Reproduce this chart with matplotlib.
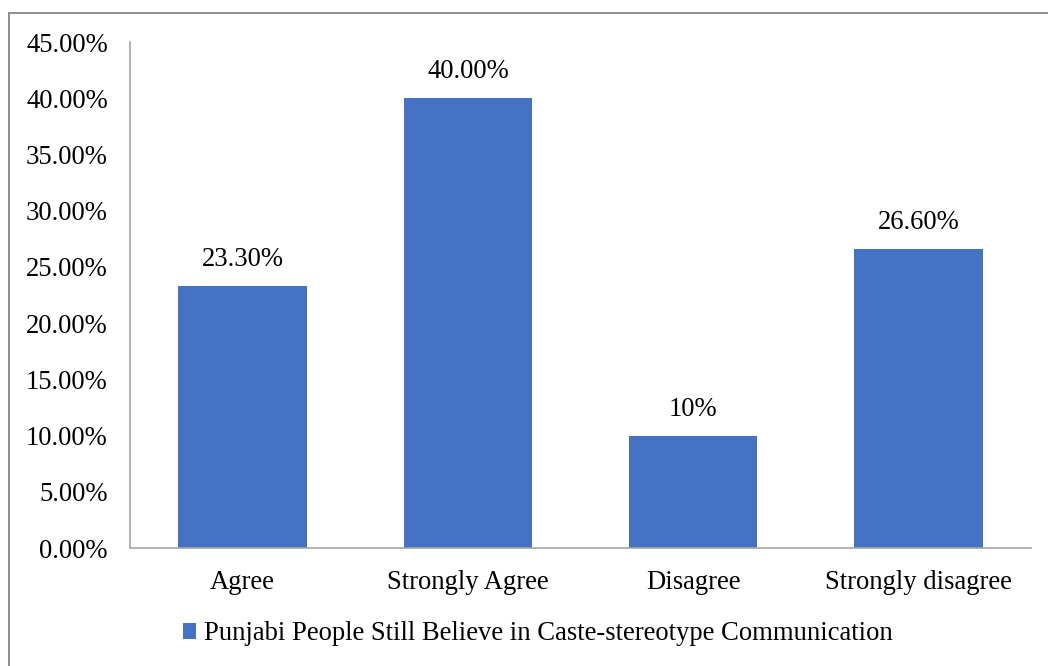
import matplotlib.pyplot as plt
from matplotlib.lines import Line2D
from matplotlib.patches import Patch

categories = ['Agree', 'Strongly Agree', 'Disagree', 'Strongly disagree']
values = [23.3, 40.0, 10.0, 26.6]
value_labels = ['23.30%', '40.00%', '10%', '26.60%']
series_name = 'Punjabi People Still Believe in Caste-stereotype Communication'

plt.rcParams['font.family'] = ['Liberation Serif', 'DejaVu Serif']
bar_color = '#4472C4'
fs = 19.2

fig = plt.figure(figsize=(10.48, 6.66), dpi=100)
ax = fig.add_axes([130 / 1048, 1 - 548 / 666, 901 / 1048, 506 / 666])

x = range(len(categories))
ax.bar(x, values, width=0.57, color=bar_color, zorder=2)

# value labels above each bar
for xi, v, lab in zip(x, values, value_labels):
    ax.annotate(lab, (xi, v), xytext=(0, 19), textcoords='offset points',
                ha='center', va='center', fontsize=fs)

ax.set_xlim(-0.5, len(categories) - 0.5)
ax.set_ylim(0, 45)
yt = [0, 5, 10, 15, 20, 25, 30, 35, 40, 45]
ax.set_yticks(yt)
ax.set_yticklabels([f'{t:.2f}%' for t in yt])
ax.set_xticks(list(x))
ax.set_xticklabels(categories)
ax.tick_params(axis='both', length=0, labelsize=fs)
ax.tick_params(axis='y', pad=16)
ax.tick_params(axis='x', pad=16)

for side in ['top', 'right']:
    ax.spines[side].set_visible(False)
for side in ['left', 'bottom']:
    ax.spines[side].set_color('#A6A6A6')
    ax.spines[side].set_linewidth(1.2)

# outer chart border (top and left edges visible)
top = 1 - 12.5 / 666
left = 8.5 / 1048
fig.add_artist(Line2D([left, 1.0], [top, top], transform=fig.transFigure,
                      color='#8C8C8C', linewidth=1.4))
fig.add_artist(Line2D([left, left], [0.0, top], transform=fig.transFigure,
                      color='#8C8C8C', linewidth=1.4))

handle = Patch(facecolor=bar_color, edgecolor='none')
fig.legend([handle], [series_name], loc='center',
           bbox_to_anchor=(538 / 1048, 1 - 634 / 666), frameon=False,
           fontsize=fs, handlelength=0.5, handleheight=0.5,
           handletextpad=0.3, borderaxespad=0)

fig.savefig('out.png', dpi=100)
